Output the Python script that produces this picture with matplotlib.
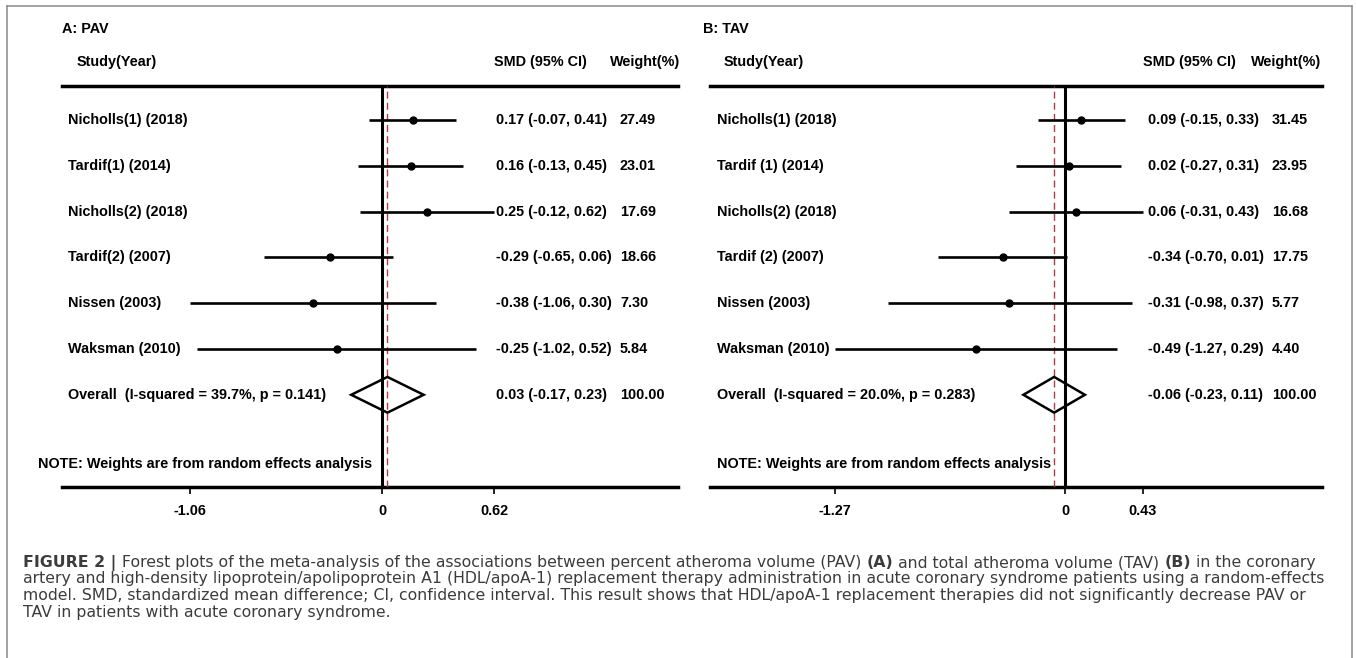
import matplotlib
matplotlib.use("Agg")
import matplotlib.pyplot as plt
import matplotlib.transforms as mtransforms
from matplotlib.lines import Line2D
from matplotlib.patches import Polygon

plt.rcParams['font.family'] = ['Liberation Sans', 'DejaVu Sans']

# ---- data: panel A (PAV) ----
studies_a = ["Nicholls(1) (2018)", "Tardif(1) (2014)", "Nicholls(2) (2018)",
             "Tardif(2) (2007)", "Nissen (2003)", "Waksman (2010)"]
smd_a = [0.17, 0.16, 0.25, -0.29, -0.38, -0.25]
lo_a = [-0.07, -0.13, -0.12, -0.65, -1.06, -1.02]
hi_a = [0.41, 0.45, 0.62, 0.06, 0.30, 0.52]
wt_a = [27.49, 23.01, 17.69, 18.66, 7.30, 5.84]
overall_a = [0.03, -0.17, 0.23]
het_a = "Overall  (I-squared = 39.7%, p = 0.141)"
ticks_a = [-1.06, 0, 0.62]

# ---- data: panel B (TAV) ----
studies_b = ["Nicholls(1) (2018)", "Tardif (1) (2014)", "Nicholls(2) (2018)",
             "Tardif (2) (2007)", "Nissen (2003)", "Waksman (2010)"]
smd_b = [0.09, 0.02, 0.06, -0.34, -0.31, -0.49]
lo_b = [-0.15, -0.27, -0.31, -0.70, -0.98, -1.27]
hi_b = [0.33, 0.31, 0.43, 0.01, 0.37, 0.29]
wt_b = [31.45, 23.95, 16.68, 17.75, 5.77, 4.40]
overall_b = [-0.06, -0.23, 0.11]
het_b = "Overall  (I-squared = 20.0%, p = 0.283)"
ticks_b = [-1.27, 0, 0.43]

note = "NOTE: Weights are from random effects analysis"

caption = [
    [("FIGURE 2 | ", "bold"),
     ("Forest plots of the meta-analysis of the associations between percent atheroma volume (PAV) ", "normal"),
     ("(A)", "bold"), (" and total atheroma volume (TAV) ", "normal"), ("(B)", "bold"),
     (" in the coronary", "normal")],
    [("artery and high-density lipoprotein/apolipoprotein A1 (HDL/apoA-1) replacement therapy "
      "administration in acute coronary syndrome patients using a random-effects", "normal")],
    [("model. SMD, standardized mean difference; CI, confidence interval. This result shows that "
      "HDL/apoA-1 replacement therapies did not significantly decrease PAV or", "normal")],
    [("TAV in patients with acute coronary syndrome.", "normal")],
]

W, H = 1357, 658
fig = plt.figure(figsize=(W / 100, H / 100), dpi=100)

PX_PER_UNIT = 181            # horizontal scale of both forest plots
ROW0, ROW_STEP = 120, 45.8   # pixel y of first study row and row spacing
TOP_PX, BOT_PX = 86, 487     # top rule / bottom axis line
FS = 10.4
RED = '#b03a48'


def row_of(py):
    return 1 + (py - ROW0) / ROW_STEP


def panel(lay, title, studies, smd, lo, hi, wt, overall, het, ticks):
    left, right, zero = lay['left'], lay['right'], lay['zero']
    ax = fig.add_axes([left / W, 1 - BOT_PX / H, (right - left) / W, (BOT_PX - TOP_PX) / H])
    ax.set_xlim((left - zero) / PX_PER_UNIT, (right - zero) / PX_PER_UNIT)
    ax.set_ylim(row_of(BOT_PX), row_of(TOP_PX))
    ax.patch.set_visible(False)
    for s in ['left', 'right']:
        ax.spines[s].set_visible(False)
    for s in ['top', 'bottom']:
        ax.spines[s].set_linewidth(2.5)
    ax.set_yticks([])
    ax.set_xticks(ticks, labels=[f"{t:g}" for t in ticks])
    ax.tick_params(axis='x', length=5, width=1.2, pad=7, labelsize=FS)
    for lab in ax.get_xticklabels():
        lab.set_fontweight('bold')

    ax.axvline(0, color='black', lw=2.2, zorder=2)
    ax.axvline(overall[0], color=RED, lw=1, ls=(0, (5, 3)), zorder=3)

    rows = list(range(1, len(studies) + 1))
    ax.hlines(rows, lo, hi, color='black', lw=1.9, zorder=4)
    ax.plot(smd, rows, 'o', color='black', ms=5, zorder=5)

    yo = len(studies) + 1
    est, olo, ohi = overall
    ax.add_patch(Polygon([(olo, yo), (est, yo - 0.39), (ohi, yo), (est, yo + 0.39)],
                         closed=True, fill=False, ec='black', lw=1.8, zorder=5))

    tr = mtransforms.blended_transform_factory(fig.transFigure, ax.transData)
    kw = dict(transform=tr, va='center', fontsize=FS, fontweight='bold', color='black')
    ax.text(lay['title_x'] / W, row_of(29), title, ha='left', **kw)
    ax.text(lay['head_x'] / W, row_of(62), "Study(Year)", ha='left', **kw)
    ax.text(lay['smd_head_x'] / W, row_of(62), "SMD (95% CI)", ha='left', **kw)
    ax.text(lay['wt_head_r'] / W, row_of(62), "Weight(%)", ha='right', **kw)
    wt_x = lay['stat_x'] + 124
    for r, s, m, l, h, w in zip(rows, studies, smd, lo, hi, wt):
        ax.text(lay['label_x'] / W, r, s, ha='left', **kw)
        ax.text(lay['stat_x'] / W, r, f"{m:.2f} ({l:.2f}, {h:.2f})", ha='left', **kw)
        ax.text(wt_x / W, r, f"{w:.2f}", ha='left', **kw)
    ax.text(lay['label_x'] / W, yo, het, ha='left', **kw)
    ax.text(lay['stat_x'] / W, yo, f"{est:.2f} ({olo:.2f}, {ohi:.2f})", ha='left', **kw)
    ax.text(wt_x / W, yo, "100.00", ha='left', **kw)
    ax.text(lay['note_x'] / W, row_of(464), note, ha='left', **kw)
    return ax


lay_a = dict(left=62, right=678, zero=382, title_x=62, head_x=77, label_x=68,
             smd_head_x=494, wt_head_r=680, stat_x=496, note_x=38)
lay_b = dict(left=710, right=1322, zero=1065, title_x=703, head_x=724, label_x=717,
             smd_head_x=1143, wt_head_r=1321, stat_x=1148, note_x=717)

panel(lay_a, "A: PAV", studies_a, smd_a, lo_a, hi_a, wt_a, overall_a, het_a, ticks_a)
panel(lay_b, "B: TAV", studies_b, smd_b, lo_b, hi_b, wt_b, overall_b, het_b, ticks_b)

# outer frame (open at the bottom)
GRAY = '#8a8a8a'
fig.add_artist(Line2D([7 / W, 1352 / W], [1 - 6 / H, 1 - 6 / H], color=GRAY, lw=1.1))
fig.add_artist(Line2D([7 / W, 7 / W], [1 - 6 / H, 0], color=GRAY, lw=1.1))
fig.add_artist(Line2D([1352 / W, 1352 / W], [1 - 6 / H, 0], color=GRAY, lw=1.1))

# caption: a wide face, sized so the second line spans the reference width
CAP_FONT = ['DejaVu Sans']
renderer = fig.canvas.get_renderer()
probe = fig.text(0, 0, caption[1][0][0], fontsize=10, family=CAP_FONT)
cap_size = 10 * 1305 / probe.get_window_extent(renderer).width
probe.remove()

CAP_COLOR = '#3c3c3c'
for line, y_px in zip(caption, [567, 583.5, 600, 616.5]):
    x_px = 23
    for text, weight in line:
        t = fig.text(x_px / W, 1 - y_px / H, text, fontsize=cap_size, fontweight=weight,
                     color=CAP_COLOR, family=CAP_FONT, ha='left', va='baseline')
        x_px += t.get_window_extent(renderer).width

fig.savefig("out.png", dpi=100)
